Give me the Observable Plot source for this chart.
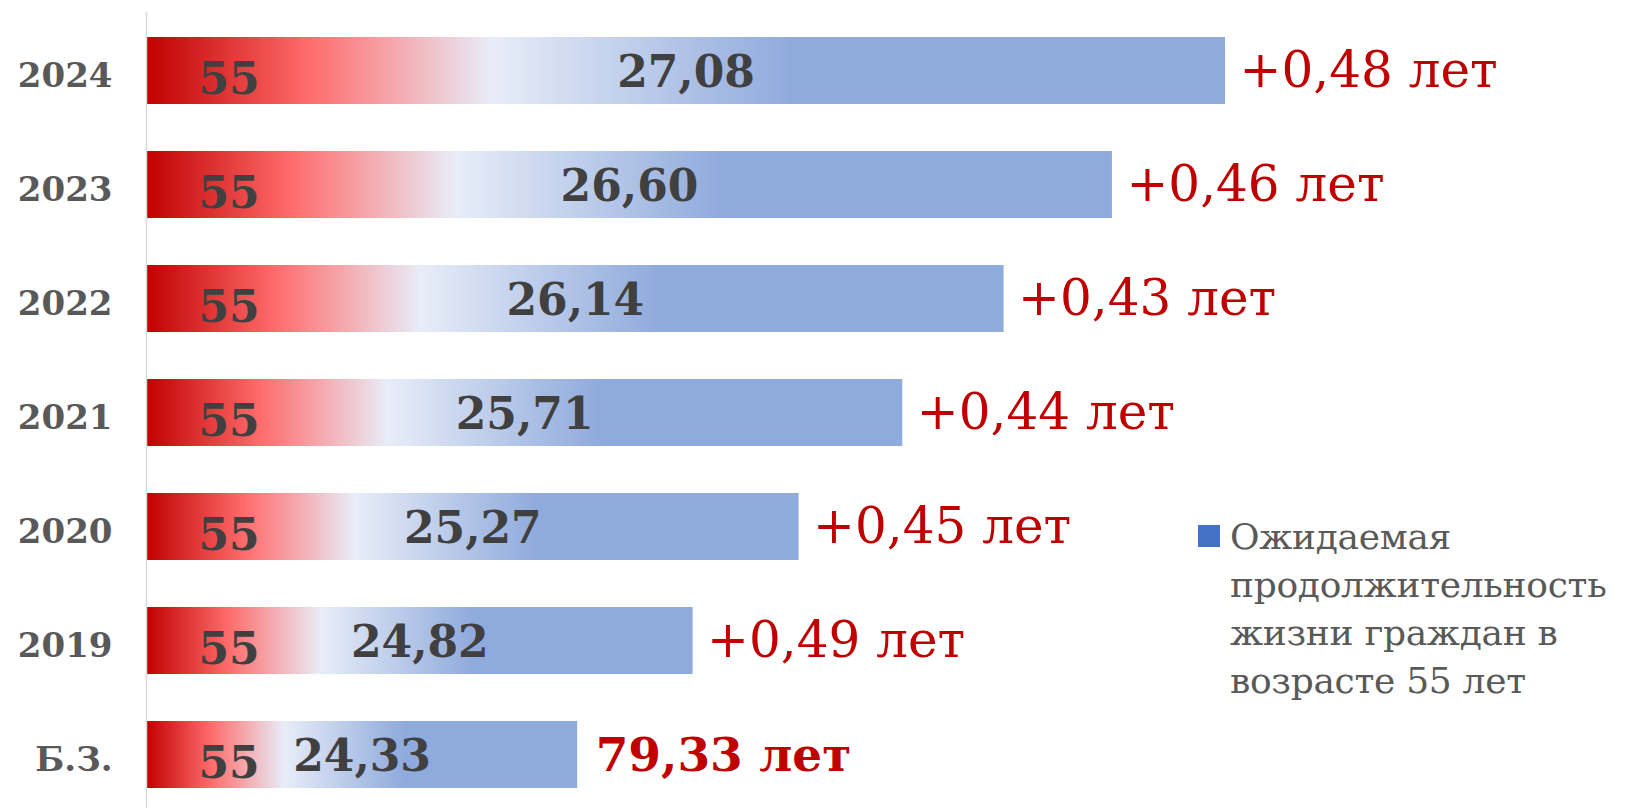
<!DOCTYPE html>
<html>
<head>
<meta charset="utf-8">
<script src="https://cdn.jsdelivr.net/npm/d3@7"></script>
<script src="https://cdn.jsdelivr.net/npm/@observablehq/plot@0.6"></script>
<style>
  html, body { margin: 0; padding: 0; background: #fff; overflow: hidden; }
  #wrap { position: relative; width: 1633px; height: 808px; }
  #legend-swatch { position: absolute; left: 1198px; top: 525px; width: 22px; height: 22px; background: #4472C4; }
  #legend-text { position: absolute; left: 1230px; top: 513px; font-family: "DejaVu Serif", serif; font-size: 36px; letter-spacing: -0.3px; line-height: 48px; color: #595959; white-space: nowrap; }
</style>
</head>
<body>
<div id="wrap">
  <div id="chart"></div>
  <div id="legend-swatch"></div>
  <div id="legend-text">Ожидаемая<br>продолжительность<br>жизни граждан в<br>возрасте 55 лет</div>
</div>
<script>
const categories = ["Б.З.", "2019", "2020", "2021", "2022", "2023", "2024"];
const remaining = [24.33, 24.82, 25.27, 25.71, 26.14, 26.60, 27.08];
const baseAge = 55;
const xDomain = [77.5, 83.5];

const fmt = v => d3.format(".2f")(v).replace(".", ",");
const data = categories.map((c, i) => ({
  cat: c,
  rem: remaining[i],
  total: baseAge + remaining[i],
  delta: i > 0 ? remaining[i] - remaining[i - 1] : null
}));
const first = data.filter(d => d.delta === null);
const rest = data.filter(d => d.delta !== null);

const chart = Plot.plot({
  width: 1633,
  height: 808,
  marginLeft: 146,
  marginRight: 73.4,
  marginTop: 12,
  marginBottom: 0,
  x: { domain: xDomain, axis: null },
  y: { domain: categories.slice().reverse(), paddingInner: 0.409, paddingOuter: 0.1875, align: 0.555 },
  marks: [
    Plot.barX(data, { x1: () => xDomain[0], x2: "total", y: "cat", fill: "url(#lifeGrad)" }),
    Plot.ruleX([xDomain[0]], { stroke: "#D9D9D9", strokeWidth: 1.5 }),
    Plot.axisY({ tickSize: 0, tickPadding: 34, fontSize: 34, fontFamily: "DejaVu Serif", fontWeight: "bold", color: "#595959", dy: 5, label: null }),
    Plot.text(data, { x: () => xDomain[0], y: "cat", text: () => String(baseAge), dx: 52, dy: 9, textAnchor: "start", lineAnchor: "middle", fontSize: 44, fontFamily: "DejaVu Serif", fontWeight: "bold", fill: "#404040" }),
    Plot.text(data, { x: d => (xDomain[0] + d.total) / 2, y: "cat", text: d => fmt(d.rem), dy: 2, textAnchor: "middle", lineAnchor: "middle", fontSize: 44, fontFamily: "DejaVu Serif", fontWeight: "bold", fill: "#404040" }),
    Plot.text(rest, { x: "total", y: "cat", text: d => "+" + fmt(d.delta) + " лет", dx: 14, dy: 0, textAnchor: "start", lineAnchor: "middle", fontSize: 50, fontFamily: "DejaVu Serif", fill: "#C00000" }),
    Plot.text(first, { x: "total", y: "cat", text: d => fmt(d.total) + " лет", dx: 18, dy: 1, textAnchor: "start", lineAnchor: "middle", fontSize: 47, fontFamily: "DejaVu Serif", fontWeight: "bold", fill: "#C00000" })
  ]
});

const svg = d3.select(chart);
const grad = svg.insert("defs", ":first-child")
  .append("linearGradient")
  .attr("id", "lifeGrad")
  .attr("x1", "0").attr("y1", "0").attr("x2", "1").attr("y2", "0");
[[0, "#C00000"], [0.15, "#FF6B6B"], [0.32, "#E8EDF8"], [0.6, "#8FAADC"], [1, "#8FAADC"]]
  .forEach(([o, c]) => grad.append("stop").attr("offset", o).attr("stop-color", c));

document.getElementById("chart").appendChild(chart);
</script>
</body>
</html>
